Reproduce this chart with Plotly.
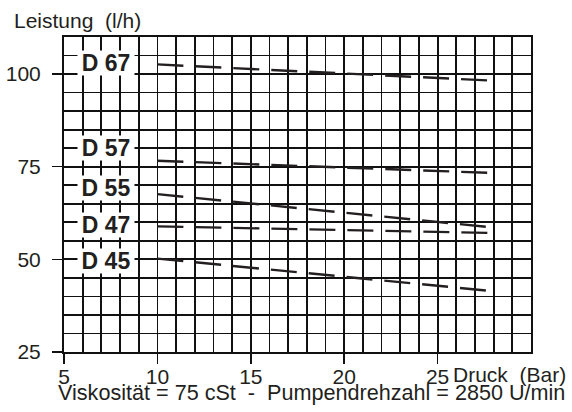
import plotly.graph_objects as go

# ---- data ----
pumps = ["D 67", "D 57", "D 55", "D 47", "D 45"]
pressure = [10, 28]                       # Bar
flow_start = [102.6, 76.6, 67.6, 58.9, 50.2]   # l/h at 10 bar
flow_end = [98.2, 73.3, 58.6, 57.1, 41.4]      # l/h at 28 bar
label_x = 7.25
label_y = [103.0, 80.0, 69.3, 59.2, 49.5]
x_ticks = [5, 10, 15, 20, 25]
y_ticks = [25, 50, 75, 100]

INK = "#231f20"
FONT = "Liberation Sans, Arial, sans-serif"

fig = go.Figure()
for name, a, b in zip(pumps, flow_start, flow_end):
    fig.add_trace(go.Scatter(
        x=pressure, y=[a, b], mode="lines", name=name,
        line=dict(color=INK, width=2.4, dash="26px,12px"),
        showlegend=False, hoverinfo="skip"))

for name, ly in zip(pumps, label_y):
    fig.add_annotation(
        x=label_x, y=ly, xref="x", yref="y", text="<b>%s</b>" % name,
        showarrow=False, bgcolor="white", borderpad=0, width=56, height=24,
        font=dict(family=FONT, size=23, color=INK))

fig.add_annotation(
    x=-0.1114, y=1, xref="paper", yref="paper", xanchor="left", yanchor="middle",
    yshift=17, text="Leistung  (l/h)", showarrow=False,
    font=dict(family=FONT, size=21, color=INK))
fig.add_annotation(
    x=25, y=0, xref="x", yref="paper", xanchor="left", yanchor="top",
    xshift=13, yshift=-9, text="Druck  (Bar)", showarrow=False,
    font=dict(family=FONT, size=21, color=INK))
fig.add_annotation(
    x=0.530, y=0, xref="paper", yref="paper", xanchor="center", yanchor="middle",
    yshift=-40, text="Viskosität = 75 cSt  -  Pumpendrehzahl = 2850 U/min",
    showarrow=False, font=dict(family=FONT, size=21.6, color=INK))

grid_col = "#111111"
fig.update_xaxes(
    range=[5, 30], tickvals=x_ticks, ticks="outside", ticklen=10, tickwidth=1.5,
    tickcolor=grid_col, showgrid=True, gridcolor=grid_col, gridwidth=1.8,
    minor=dict(tick0=5, dtick=1, showgrid=True, gridcolor=grid_col, gridwidth=1.8),
    showline=True, linecolor=grid_col, linewidth=2, mirror=True, zeroline=False,
    automargin=False, ticklabelstandoff=-5,
    tickfont=dict(family=FONT, size=21, color=INK), fixedrange=True)
fig.update_yaxes(
    range=[25, 110], tickvals=y_ticks, ticks="outside", ticklen=10, tickwidth=1.5,
    tickcolor=grid_col, showgrid=True, gridcolor=grid_col, gridwidth=1.8,
    minor=dict(tick0=25, dtick=5, showgrid=True, gridcolor=grid_col, gridwidth=1.8),
    showline=True, linecolor=grid_col, linewidth=2, mirror=True, zeroline=False,
    ticklabelstandoff=7, automargin=False,
    tickfont=dict(family=FONT, size=21, color=INK), fixedrange=True)

fig.update_layout(
    width=572, height=412, margin=dict(l=64, r=41, t=37, b=60, autoexpand=False),
    plot_bgcolor="white", paper_bgcolor="white")

fig.write_html("out.html", config={"displayModeBar": False, "staticPlot": True},
               post_script="document.body.style.margin='0';document.body.style.padding='0';")
